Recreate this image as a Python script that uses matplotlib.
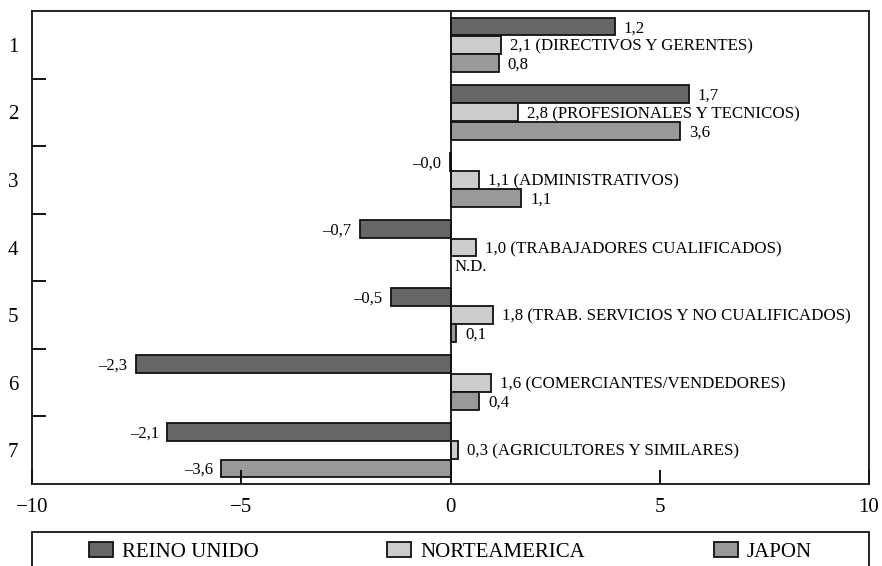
import numpy as np
import matplotlib.pyplot as plt
from matplotlib.patches import Patch, Rectangle

plt.rcParams['font.family'] = ['Liberation Serif', 'DejaVu Serif']

categories = ['1', '2', '3', '4', '5', '6', '7']
series_names = ['REINO UNIDO', 'NORTEAMERICA', 'JAPON']

# bar lengths as drawn in the picture
reino_unido = [3.93, 5.69, -0.02, -2.17, -1.43, -7.52, -6.77]
norteamerica = [1.21, 1.62, 0.68, 0.60, 1.02, 0.96, 0.17]
japon = [1.15, 5.48, 1.69, np.nan, 0.13, 0.68, -5.48]

# printed labels
reino_labels = ['1,2', '1,7', '\u20130,0', '\u20130,7', '\u20130,5', '\u20132,3', '\u20132,1']
norte_labels = ['2,1 (DIRECTIVOS Y GERENTES)', '2,8 (PROFESIONALES Y TECNICOS)',
                '1,1 (ADMINISTRATIVOS)', '1,0 (TRABAJADORES CUALIFICADOS)',
                '1,8 (TRAB. SERVICIOS Y NO CUALIFICADOS)', '1,6 (COMERCIANTES/VENDEDORES)',
                '0,3 (AGRICULTORES Y SIMILARES)']
japon_labels = ['0,8', '3,6', '1,1', 'N.D.', '0,1', '0,4', '\u20133,6']

colors = ['#666666', '#cccccc', '#999999']

fig = plt.figure(figsize=(8.82, 5.66), dpi=100)
ax = fig.add_axes([32/882, 1 - 484/566, (869 - 32)/882, (484 - 11)/566])

y = np.arange(len(categories))
offsets = [-0.27, 0.0, 0.27]
h = 0.265
data = [reino_unido, norteamerica, japon]
labels = [reino_labels, norte_labels, japon_labels]

for vals, labs, off, col in zip(data, labels, offsets, colors):
    for yi, v, lab in zip(y, vals, labs):
        if np.isnan(v):
            ax.annotate(lab, (0, yi + off), xytext=(3, -1.2), textcoords='offset points',
                        ha='left', va='center', fontsize=12)
            continue
        ax.barh(yi + off, v, height=h, color=col, edgecolor='#111111', linewidth=1.3)
        if v >= 0:
            ax.annotate(lab, (v, yi + off), xytext=(6.5, -1.2), textcoords='offset points',
                        ha='left', va='center', fontsize=12.2)
        else:
            ax.annotate(lab, (v, yi + off), xytext=(-6, -1.2), textcoords='offset points',
                        ha='right', va='center', fontsize=12)

ax.axvline(0, color='#111111', linewidth=1.3)
ax.set_xlim(-10, 10)
ax.set_ylim(6.5, -0.5)
ax.set_xticks([-10, -5, 0, 5, 10])
ax.set_xticklabels(['\u221210', '\u22125', '0', '5', '10'])
ax.set_yticks(y)
ax.set_yticklabels(categories)
ax.set_yticks(np.arange(0.5, 6.5, 1), minor=True)
ax.tick_params(axis='y', which='major', length=0, pad=10, labelsize=15)
ax.tick_params(axis='y', which='minor', direction='in', length=10, width=1.3)
ax.tick_params(axis='x', which='major', direction='in', length=10, width=1.3,
               pad=10, labelsize=15)
for s in ax.spines.values():
    s.set_linewidth(1.3)
    s.set_color('#111111')

# legend frame running off the bottom edge
fig.patches.append(Rectangle((32/882, -0.1), (869 - 32)/882, 0.1 + (1 - 532/566),
                             transform=fig.transFigure, fill=False,
                             edgecolor='#111111', linewidth=1.3, clip_on=False))
handles = [Patch(facecolor=c, edgecolor='#111111', linewidth=1.3) for c in colors]
fig.legend(handles, series_names, loc='center', ncol=3, mode='expand',
           bbox_to_anchor=(89/882, 1 - 552/566, (812 - 89)/882, 0),
           frameon=False, borderpad=0, borderaxespad=0, fontsize=15,
           handlelength=1.15, handleheight=0.72, handletextpad=0.45)

fig.savefig('out.png', dpi=100)
